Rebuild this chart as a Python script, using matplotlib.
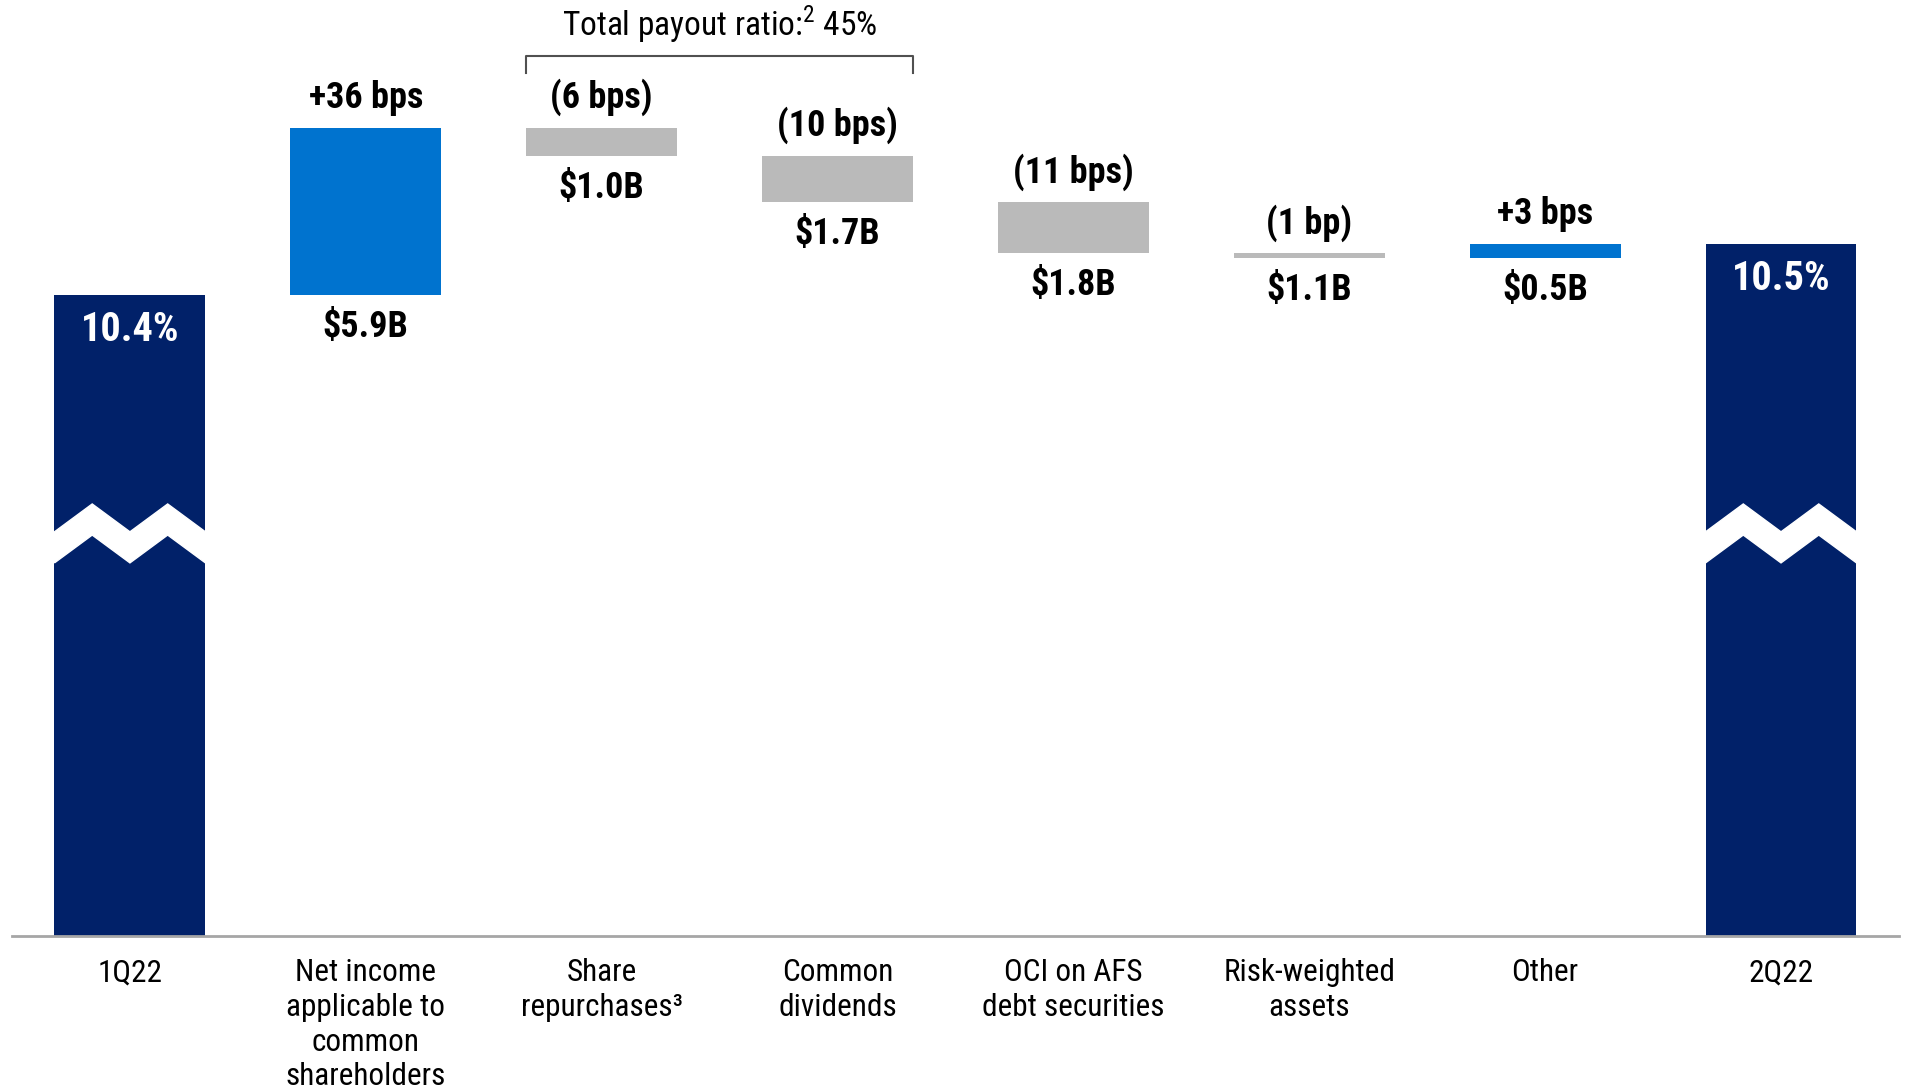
import numpy as np
import matplotlib.pyplot as plt
from matplotlib.patches import Polygon

plt.rcParams['font.family'] = ['Roboto Condensed', 'Liberation Sans Narrow', 'Roboto', 'DejaVu Sans']
plt.rcParams['font.stretch'] = 'condensed'
plt.rcParams['mathtext.fontset'] = 'custom'
plt.rcParams['mathtext.rm'] = 'Roboto Condensed'

# data
categories = ['1Q22', 'Net income\napplicable to\ncommon\nshareholders', 'Share\nrepurchases\u00b3',
              'Common\ndividends', 'OCI on AFS\ndebt securities', 'Risk-weighted\nassets', 'Other', '2Q22']
start_ratio = 10.4            # CET1 ratio in %, 1Q22
changes_bps = [36, -6, -10, -11, -1, 3]
change_labels = ['+36 bps', '(6 bps)', '(10 bps)', '(11 bps)', '(1 bp)', '+3 bps']
amount_labels = ['$5.9B', '$1.0B', '$1.7B', '$1.8B', '$1.1B', '$0.5B']
total_labels = ['10.4%', '10.5%']
payout_text = r'Total payout ratio:$^{2}$ 45%'

navy = '#012169'
blue = '#0073CF'
grey = '#BABABA'

fig = plt.figure(figsize=(19.06, 10.89), dpi=100)
ax = fig.add_axes([0.0063, 0.1405, 0.99, 0.8595])
ymin, ymax = 9.019, 11.036
ax.set_xlim(-0.5, 7.5)
ax.set_ylim(ymin, ymax)
w = 0.64

# running totals
level = start_ratio
x = np.arange(len(categories))
ax.bar(0, start_ratio - ymin, bottom=ymin, width=w, color=navy)
for i, d in enumerate(changes_bps):
    new = level + d / 100
    lo, hi = min(level, new), max(level, new)
    ax.bar(i + 1, hi - lo, bottom=lo, width=w, color=blue if d > 0 else grey)
    ax.annotate(change_labels[i], (i + 1, hi), xytext=(0, 22), textcoords='offset points',
                ha='center', va='center', fontsize=26, fontweight='bold')
    ax.annotate(amount_labels[i], (i + 1, lo), xytext=(0, -23), textcoords='offset points',
                ha='center', va='center', fontsize=26, fontweight='bold')
    level = new
end_ratio = level
ax.bar(7, end_ratio - ymin, bottom=ymin, width=w, color=navy)

for xi, val, lab in [(0, start_ratio, total_labels[0]), (7, end_ratio, total_labels[1])]:
    ax.annotate(lab, (xi, val), xytext=(0, -25), textcoords='offset points',
                ha='center', va='center', fontsize=29, fontweight='bold', color='white')
    # axis break zigzag
    xl = xi - w / 2
    xs = xl + w * np.array([0, 0.25, 0.5, 0.75, 1.0])
    y0, dh, th = 9.89, 0.06, 0.067
    top = np.array([y0, y0 + dh, y0, y0 + dh, y0])
    pts = list(zip(xs, top)) + list(zip(xs[::-1], (top - th)[::-1]))
    ax.add_patch(Polygon(pts, closed=True, facecolor='white', edgecolor='white', lw=1, zorder=3))

# bracket over payout items
tr = ax.get_xaxis_transform()
bl, br = 2 - w / 2, 3 + w / 2
ax.plot([bl, bl, br, br], [0.922, 0.940, 0.940, 0.922], transform=tr, color='#505050', lw=1.5,
        clip_on=False)
ax.text(2.5, 0.974, payout_text, transform=tr, ha='center', va='center', fontsize=24)

ax.set_xticks(x)
ax.set_xticklabels(categories, fontsize=22.5, linespacing=1.25)
ax.tick_params(axis='x', length=0, pad=16)
ax.set_yticks([])
for s in ['top', 'right', 'left']:
    ax.spines[s].set_visible(False)
ax.spines['bottom'].set_color('#A6A6A6')
ax.spines['bottom'].set_linewidth(2)

fig.savefig('out.png', dpi=100)
